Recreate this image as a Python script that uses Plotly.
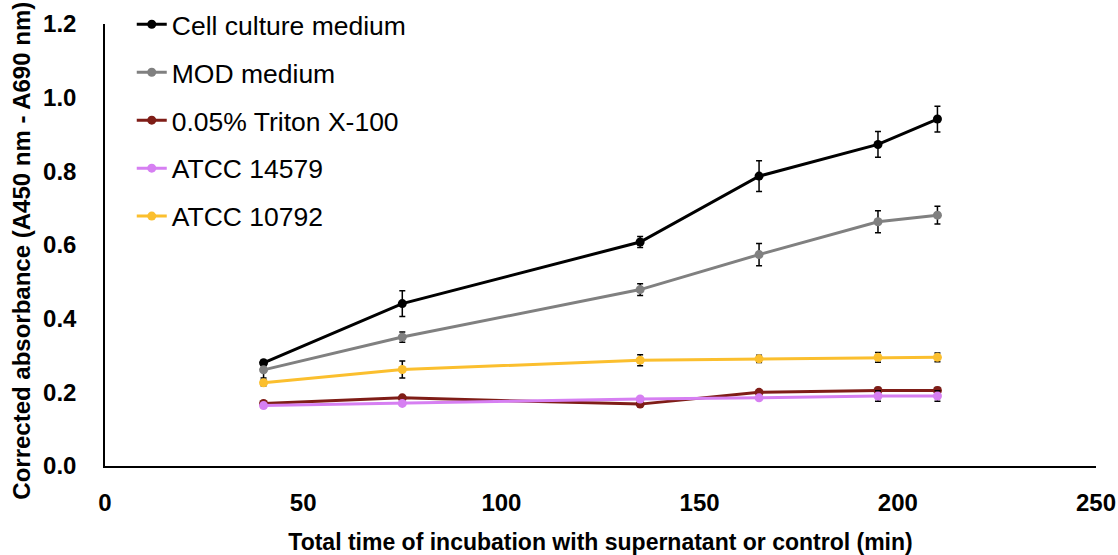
import plotly.graph_objects as go

# Incubation time points (min)
time_min = [40, 75, 135, 165, 195, 210]

series_names = [
    "Cell culture medium",
    "MOD medium",
    "0.05% Triton X-100",
    "ATCC 14579",
    "ATCC 10792",
]

cell_culture = [0.280, 0.441, 0.608, 0.787, 0.873, 0.942]
cell_culture_err = [0.008, 0.035, 0.015, 0.042, 0.035, 0.035]

mod_medium = [0.261, 0.350, 0.479, 0.574, 0.663, 0.681]
mod_medium_err = [0.022, 0.014, 0.016, 0.030, 0.030, 0.024]

triton = [0.170, 0.185, 0.168, 0.200, 0.205, 0.205]
triton_err = [0.005, 0.005, 0.005, 0.006, 0.008, 0.008]

atcc_14579 = [0.164, 0.170, 0.182, 0.185, 0.190, 0.190]
atcc_14579_err = [0.005, 0.005, 0.005, 0.006, 0.014, 0.014]

atcc_10792 = [0.226, 0.262, 0.287, 0.291, 0.295, 0.295]
atcc_10792_err = [0.008, 0.023, 0.015, 0.010, 0.013, 0.012]

colors = ["#000000", "#808080", "#7f1d17", "#d67ff2", "#fbbf2e"]
values = [cell_culture, mod_medium, triton, atcc_14579, atcc_10792]
errors = [cell_culture_err, mod_medium_err, triton_err, atcc_14579_err, atcc_10792_err]

FONT = "Liberation Sans, Arial, sans-serif"

fig = go.Figure()
for i, (name, y, err, c) in enumerate(zip(series_names, values, errors, colors)):
    fig.add_trace(go.Scatter(
        x=time_min, y=y, name=name, mode="lines+markers",
        legendgroup=f"g{i}",
        line=dict(color=c, width=3),
        marker=dict(color=c, size=9),
        error_y=dict(type="data", array=err, visible=True,
                     color="#000000", thickness=1.5, width=3),
    ))

fig.update_layout(
    width=1118, height=555,
    margin=dict(l=105, r=22, t=24, b=89, autoexpand=False),
    paper_bgcolor="white", plot_bgcolor="white",
    font=dict(family=FONT, color="#000000"),
    showlegend=True,
    legend=dict(
        x=0.027, y=0.999, xanchor="left", yanchor="top",
        xref="paper", yref="container",
        font=dict(family=FONT, size=26.5, color="#000000"),
        bgcolor="rgba(0,0,0,0)", borderwidth=0,
        tracegroupgap=10.5, traceorder="grouped",
        itemwidth=30,
    ),
    xaxis=dict(
        range=[0, 250], dtick=50, tick0=0, automargin=False,
        showgrid=False, zeroline=False,
        showline=True, linecolor="#000000", linewidth=1.5,
        ticks="", ticklabelstandoff=14,
        tickfont=dict(family=FONT, size=24, color="#000000", weight="bold"),
        title=dict(text="<b>Total time of incubation with supernatant or control (min)</b>",
                   font=dict(family=FONT, size=23, color="#000000"), standoff=20),
    ),
    yaxis=dict(
        range=[0, 1.2], dtick=0.2, tick0=0, tickformat=".1f", automargin=False,
        showgrid=False, zeroline=False,
        showline=True, linecolor="#000000", linewidth=1.5,
        ticks="", ticklabelstandoff=22,
        tickfont=dict(family=FONT, size=24, color="#000000", weight="bold"),
    ),
)

# Vertical y-axis title, placed slightly below the plot's mid-height
fig.add_annotation(
    text="<b>Corrected absorbance (A450 nm - A690 nm)</b>",
    xref="paper", yref="paper", x=-0.0838, y=0.487,
    xanchor="center", yanchor="middle", textangle=-90, showarrow=False,
    font=dict(family=FONT, size=24, color="#000000"),
)

fig.write_html("out.html")
